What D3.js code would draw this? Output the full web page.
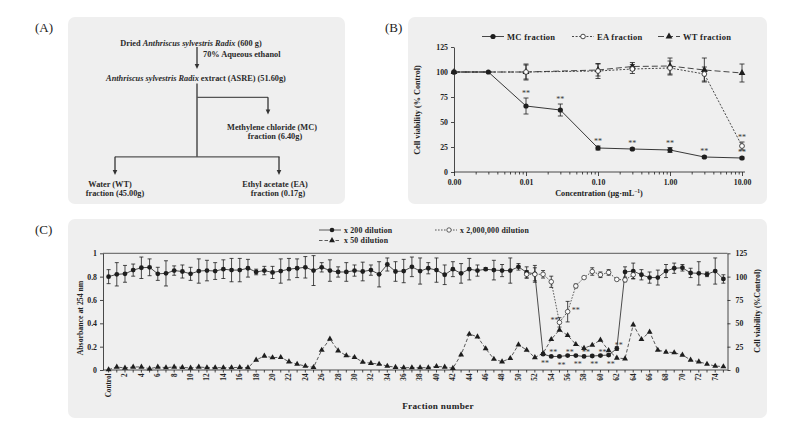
<!DOCTYPE html>
<html><head><meta charset="utf-8">
<script src="https://cdn.jsdelivr.net/npm/d3@7/dist/d3.min.js"></script>
<style>body{margin:0;background:#fff;} svg{display:block;}</style>
</head><body><svg id="c" width="803" height="426"></svg>
<script>
// ---------- Panel B data ----------
const concMC = [0.001, 0.003, 0.01, 0.03, 0.1, 0.3, 1, 3, 10];
const mcMean = [100, 100, 66, 62, 24, 23, 22, 15, 14];
const mcErr  = [0, 0, 8, 6, 2, 1, 2.5, 1, 1];
const mcSig  = [0, 0, 1, 1, 1, 1, 1, 1, 1];
const concEW = [0.001, 0.01, 0.1, 0.3, 1, 3, 10];
const eaMean = [100, 100, 101, 103, 104, 98, 26];
const eaErr  = [0, 8, 7.5, 4.5, 7, 7, 4];
const eaSig  = [0, 0, 0, 0, 0, 0, 1];
const wtMean = [100, 100, 102, 105.5, 106, 102, 99];
const wtErr  = [0, 7, 6, 4, 8, 12, 9];
const xTickValsB = [0.001, 0.01, 0.1, 1, 10];
const xTickLabelsB = ["0.00", "0.01", "0.10", "1.00", "10.00"];
const yTicksB = [0, 25, 50, 75, 100, 125];
const legendB = ["MC fraction", "EA fraction", "WT fraction"];

// ---------- Panel C data ----------
const categoriesC = ["Control"].concat(d3.range(1, 76).map(String));
const x200Mean = [100,102.5,103,107,109.5,110,103,103.5,106.5,105.5,103,106,106.5,106,108,107,107,109,105,106.5,
  104.5,106,108,109,110,106.5,110,106.5,105,105,106.5,105.5,107,102.5,113,105.5,106,110.5,106,109,
  107,102,108,103.5,108,106.5,108,107,106.5,106.5,110.5,104.5,103,17,14.5,14.5,15.5,15.5,14.5,15,
  15.5,16,23,105,106,102,99,99,106,109,109.5,104,103.5,102.5,106,97.5];
const x200Err = [7.5,12.5,9,6.5,11.5,9,7,13.5,5,7,7,13,11,9,10,12.5,12.5,9.5,3,4.5,
  6.5,13,11.5,10,11.5,16,5,11.5,5.5,10,6,10,5.5,13.5,7,10.5,12.5,10.5,14,6,
  13,10.5,8,10.5,11.5,6,1.5,10.5,6.5,13.5,3.5,6,9,1,1,1,1,1,1,1,
  1,1,2,5.5,8.5,5.5,6,8,7,5.5,3.5,5,12.5,2.5,14,4.5];
const x50Abs = [0.003,0.026,0.017,0.026,0.026,0.011,0.026,0.02,0.026,0.023,0.017,0.026,0.02,0.02,0.02,0.02,0.023,0.02,0.086,0.12,
  0.106,0.109,0.071,0.05,0.034,0.023,0.171,0.266,0.165,0.123,0.109,0.068,0.058,0.051,0.034,0.024,0.02,0.02,0.02,0.02,
  0.031,0.026,0.015,0.131,0.308,0.285,0.183,0.094,0.071,0.1,0.217,0.171,0.107,0.143,0.263,0.343,0.297,0.22,0.187,0.214,
  0.257,0.167,0.103,0.097,0.388,0.263,0.326,0.171,0.154,0.149,0.129,0.086,0.071,0.051,0.034,0.029];
const x2mIdx  = [51,52,53,54,55,56,57,58,59,60,61,62,63,64];
const x2mMean = [102.5,102.5,102.5,94.5,51,62.5,90,99,105.5,102,104.5,97,96.5,102];
const x2mErr  = [4,7,4,6,5,11,2,1,4,3,3,1,2,4];
const sigFilledIdx = [53,54,55,56,57,58,59,60,61,62];
const sigFilledPos = ["below","above","below","above","below","above","below","above","below","above"];
const sigOpenIdx = [55,56];
const sigOpenSide = ["left","right"];
const yTicksLeft = [0,0.2,0.4,0.6,0.8,1];
const yTickLabelsLeft = ["0","0.2","0.4","0.6","0.8","1"];
const yTicksRight = [0,25,50,75,100,125];
const legendC = ["x 200 dilution","x 2,000,000 dilution","x 50 dilution"];

// ---------- common ----------
const FONT = '"Liberation Serif","Times New Roman",serif';
const BG = "#efefef";
const INK = "#1e1e1e";
const svg = d3.select("#c");
svg.attr("font-family", FONT);

function styleAxis(g, fs) {
  g.attr("font-family", FONT).attr("font-size", fs).style("color", INK);
  g.selectAll("text").attr("font-weight", "bold").attr("fill", "#222");
  g.selectAll("line,path").attr("stroke-width", 0.8);
}
function errBar(g, x, y1, y2, cap, sw) {
  g.append("line").attr("x1", x).attr("x2", x).attr("y1", y1).attr("y2", y2).attr("stroke", INK).attr("stroke-width", sw || 0.8);
  g.append("line").attr("x1", x - cap).attr("x2", x + cap).attr("y1", y1).attr("y2", y1).attr("stroke", INK).attr("stroke-width", 0.8);
  g.append("line").attr("x1", x - cap).attr("x2", x + cap).attr("y1", y2).attr("y2", y2).attr("stroke", INK).attr("stroke-width", 0.8);
}

// panel backgrounds
svg.append("rect").attr("x", 68).attr("y", 17).attr("width", 277).attr("height", 187).attr("rx", 7).attr("fill", BG);
svg.append("rect").attr("x", 408).attr("y", 17).attr("width", 359).attr("height", 187).attr("rx", 7).attr("fill", BG);
svg.append("rect").attr("x", 68).attr("y", 219).attr("width", 699).attr("height", 199).attr("rx", 7).attr("fill", BG);

[["(A)", 35, 32], ["(B)", 385, 32], ["(C)", 35, 234]].forEach(d => {
  svg.append("text").attr("x", d[1]).attr("y", d[2]).attr("font-size", 13).attr("fill", "#222").text(d[0]);
});

// ---------- Panel A (flow chart) ----------
const A = svg.append("g").attr("font-size", 8.3).attr("font-weight", "bold").attr("fill", "#2a2a2a");
function txt(x, y, parts, anchor) {
  const t = A.append("text").attr("x", x).attr("y", y).attr("text-anchor", anchor || "middle").attr("fill", "#2a2a2a");
  parts.forEach(p => t.append("tspan").attr("font-style", p[1] ? "italic" : null).text(p[0]));
}
function arrowDown(x, y1, y2) {
  A.append("line").attr("x1", x).attr("x2", x).attr("y1", y1).attr("y2", y2 - 4).attr("stroke", "#333").attr("stroke-width", 1.3);
  A.append("path").attr("d", `M${x - 2.3},${y2 - 5} L${x + 2.3},${y2 - 5} L${x},${y2} Z`).attr("fill", "#333");
}
function hline(x1, x2, y) { A.append("line").attr("x1", x1).attr("x2", x2).attr("y1", y).attr("y2", y).attr("stroke", "#555").attr("stroke-width", 1.3); }
txt(191, 45.5, [["Dried "], ["Anthriscus sylvestris Radix", 1], [" (600 g)"]]);
arrowDown(197, 47, 69);
txt(203, 57, [["70% Aqueous ethanol"]], "start");
txt(196, 80.5, [["Anthriscus sylvestris Radix", 1], [" extract (ASRE) (51.60g)"]]);
A.append("line").attr("x1", 197).attr("x2", 197).attr("y1", 83.5).attr("y2", 157).attr("stroke", "#333").attr("stroke-width", 1.3);
hline(197, 268, 97.3);
arrowDown(268, 97.3, 114.5);
txt(272, 129.5, [["Methylene chloride (MC)"]]);
txt(275, 138.8, [["fraction (6.40g)"]]);
hline(115, 279.5, 156.8);
arrowDown(115, 156.8, 175);
arrowDown(279, 156.8, 175);
txt(110, 187, [["Water (WT)"]]);
txt(115, 196, [["fraction (45.00g)"]]);
txt(275, 187, [["Ethyl acetate (EA)"]]);
txt(278, 196, [["fraction (0.17g)"]]);

// ---------- Panel B ----------
const B = svg.append("g");
const xB = d3.scaleLog().domain([0.001, 10]).range([454, 742]);
const yB = d3.scaleLinear().domain([0, 125]).range([172, 47]);

const minorB = [];
[0.001, 0.01, 0.1, 1].forEach(dec => { for (let k = 2; k <= 9; k++) minorB.push(dec * k); });
const gxm = B.append("g").attr("transform", "translate(0,172)")
  .call(d3.axisBottom(xB).tickValues(minorB).tickSize(2.5).tickFormat(""));
gxm.select(".domain").remove();
styleAxis(gxm, 7.5);
const gx = B.append("g").attr("transform", "translate(0,172)")
  .call(d3.axisBottom(xB).tickValues(xTickValsB).tickSize(4).tickSizeOuter(0).tickPadding(3)
    .tickFormat((d, i) => xTickLabelsB[i]));
gx.select(".domain").attr("d", "M454,0H745");
styleAxis(gx, 7.8);
const gy = B.append("g").attr("transform", "translate(454,0)")
  .call(d3.axisLeft(yB).tickValues(yTicksB).tickSize(3).tickSizeOuter(0).tickPadding(3));
styleAxis(gy, 7.8);

B.append("text").attr("transform", "translate(420,110) rotate(-90)").attr("text-anchor", "middle")
  .attr("font-size", 8.2).attr("font-weight", "bold").attr("fill", "#222").text("Cell viability (% Control)");
const xt = B.append("text").attr("x", 599).attr("y", 196).attr("text-anchor", "middle")
  .attr("font-size", 8.2).attr("font-weight", "bold").attr("fill", "#222");
xt.append("tspan").text("Concentration (\u03bcg\u00b7mL");
xt.append("tspan").attr("dy", -3).attr("font-size", 5.5).text("\u22121");
xt.append("tspan").attr("dy", 3).text(")");

const lineB = d3.line().x(d => xB(d[0])).y(d => yB(d[1]));
const wtPts = concEW.map((c, i) => [c, wtMean[i]]);
const eaPts = concEW.map((c, i) => [c, eaMean[i]]);
const mcPts = concMC.map((c, i) => [c, mcMean[i]]);
concEW.forEach((c, i) => { if (wtErr[i]) errBar(B, xB(c), yB(wtMean[i] + wtErr[i]), yB(wtMean[i] - wtErr[i]), 2.5); });
concEW.forEach((c, i) => { if (eaErr[i]) errBar(B, xB(c), yB(eaMean[i] + eaErr[i]), yB(eaMean[i] - eaErr[i]), 2.5); });
concMC.forEach((c, i) => { if (mcErr[i]) errBar(B, xB(c), yB(mcMean[i] + mcErr[i]), yB(mcMean[i] - mcErr[i]), 2.5); });
B.append("path").attr("d", lineB(wtPts)).attr("fill", "none").attr("stroke", "#333").attr("stroke-width", 0.9).attr("stroke-dasharray", "6,3");
B.append("path").attr("d", lineB(eaPts)).attr("fill", "none").attr("stroke", "#333").attr("stroke-width", 0.9).attr("stroke-dasharray", "2,1.6");
B.append("path").attr("d", lineB(mcPts)).attr("fill", "none").attr("stroke", "#222").attr("stroke-width", 0.9);
const triB = d3.symbol().type(d3.symbolTriangle).size(20);
wtPts.forEach(p => B.append("path").attr("d", triB()).attr("transform", `translate(${xB(p[0])},${yB(p[1])})`).attr("fill", INK));
eaPts.forEach(p => B.append("circle").attr("cx", xB(p[0])).attr("cy", yB(p[1])).attr("r", 2.4).attr("fill", "#fff").attr("stroke", INK).attr("stroke-width", 0.8));
mcPts.forEach(p => B.append("circle").attr("cx", xB(p[0])).attr("cy", yB(p[1])).attr("r", 2.6).attr("fill", INK));
concMC.forEach((c, i) => { if (mcSig[i]) B.append("text").attr("x", xB(c)).attr("y", yB(mcMean[i] + mcErr[i]) - 2).attr("text-anchor", "middle").attr("font-size", 8).attr("fill", "#333").text("**"); });
concEW.forEach((c, i) => { if (eaSig[i]) B.append("text").attr("x", xB(c)).attr("y", yB(eaMean[i] + eaErr[i]) - 2).attr("text-anchor", "middle").attr("font-size", 8).attr("fill", "#333").text("**"); });
const LB = B.append("g").attr("font-size", 8.5).attr("font-weight", "bold").attr("fill", "#222");
const legBx = [482, 572, 658];
const legBdash = [null, "2,1.6", "6,3"];
legendB.forEach((name, i) => {
  const x0 = legBx[i], y0 = 36.5;
  LB.append("line").attr("x1", x0).attr("x2", x0 + 22).attr("y1", y0).attr("y2", y0).attr("stroke", "#333").attr("stroke-width", 0.9).attr("stroke-dasharray", legBdash[i]);
  if (i === 0) LB.append("circle").attr("cx", x0 + 11).attr("cy", y0).attr("r", 2.6).attr("fill", INK);
  if (i === 1) LB.append("circle").attr("cx", x0 + 11).attr("cy", y0).attr("r", 2.3).attr("fill", "#fff").attr("stroke", INK).attr("stroke-width", 0.8);
  if (i === 2) LB.append("path").attr("d", triB()).attr("transform", `translate(${x0 + 11},${y0})`).attr("fill", INK);
  LB.append("text").attr("x", x0 + 25).attr("y", y0 + 3).attr("letter-spacing", 0.3).attr("fill", "#222").text(name);
});

// ---------- Panel C ----------
const C = svg.append("g");
const xC = d3.scaleBand().domain(d3.range(categoriesC.length)).range([104.5, 727.5]);
const cx = i => xC(i) + xC.bandwidth() / 2;
const yL = d3.scaleLinear().domain([0, 1]).range([370, 253.3]);
const yR = d3.scaleLinear().domain([0, 125]).range([370, 253.3]);

C.append("line").attr("x1", 103).attr("x2", 727.5).attr("y1", 253.3).attr("y2", 253.3).attr("stroke", "#333").attr("stroke-width", 0.8);
const gyl = C.append("g").attr("transform", "translate(103,0)")
  .call(d3.axisLeft(yL).tickValues(yTicksLeft).tickSize(3).tickSizeOuter(0).tickPadding(3).tickFormat((d, i) => yTickLabelsLeft[i]));
styleAxis(gyl, 7.8);
const gyr = C.append("g").attr("transform", "translate(727.5,0)")
  .call(d3.axisRight(yR).tickValues(yTicksRight).tickSize(3).tickSizeOuter(0).tickPadding(5));
styleAxis(gyr, 7.8);
const gxc = C.append("g").attr("transform", "translate(0,370)")
  .call(d3.axisBottom(xC).tickSize(2.5).tickSizeOuter(0).tickFormat(""));
gxc.select(".domain").attr("d", "M103,0H727.5");
styleAxis(gxc, 7);
categoriesC.forEach((lab, i) => {
  if (i % 2 === 0) C.append("text").attr("transform", `translate(${cx(i) + 2.4},373.5) rotate(-90)`).attr("text-anchor", "end")
    .attr("font-size", 7.2).attr("font-weight", "bold").attr("fill", "#222").text(lab);
});
C.append("text").attr("transform", "translate(83,318) rotate(-90)").attr("text-anchor", "middle")
  .attr("font-size", 7.8).attr("font-weight", "bold").attr("fill", "#222").text("Absorbance at 254 nm");
C.append("text").attr("transform", "translate(760,311) rotate(-90)").attr("text-anchor", "middle")
  .attr("font-size", 7.8).attr("font-weight", "bold").attr("fill", "#222").text("Cell viability (%Control)");
C.append("text").attr("x", 438).attr("y", 409).attr("text-anchor", "middle")
  .attr("font-size", 9.2).attr("font-weight", "bold").attr("letter-spacing", 0.3).attr("fill", "#222").text("Fraction number");

const lineL = d3.line().x((d, i) => cx(i)).y(d => yL(d));
C.append("path").attr("d", lineL(x50Abs)).attr("fill", "none").attr("stroke", "#333").attr("stroke-width", 0.8).attr("stroke-dasharray", "3.5,2");
const triC = d3.symbol().type(d3.symbolTriangle).size(15);
x50Abs.forEach((v, i) => C.append("path").attr("d", triC()).attr("transform", `translate(${cx(i)},${yL(v)})`).attr("fill", INK));

x200Mean.forEach((v, i) => errBar(C, cx(i), yR(v + x200Err[i]), yR(v - x200Err[i]), 2));
const lineR = d3.line().x(d => cx(d[0])).y(d => yR(d[1]));
C.append("path").attr("d", lineR(x200Mean.map((v, i) => [i, v]))).attr("fill", "none").attr("stroke", "#222").attr("stroke-width", 0.8);
x200Mean.forEach((v, i) => C.append("circle").attr("cx", cx(i)).attr("cy", yR(v)).attr("r", 2.4).attr("fill", INK));

x2mIdx.forEach((idx, k) => errBar(C, cx(idx), yR(x2mMean[k] + x2mErr[k]), yR(x2mMean[k] - x2mErr[k]), 2));
C.append("path").attr("d", lineR(x2mIdx.map((idx, k) => [idx, x2mMean[k]]))).attr("fill", "none").attr("stroke", "#333").attr("stroke-width", 0.8).attr("stroke-dasharray", "1.6,1.4");
x2mIdx.forEach((idx, k) => C.append("circle").attr("cx", cx(idx)).attr("cy", yR(x2mMean[k])).attr("r", 2.3).attr("fill", "#fafafa").attr("stroke", INK).attr("stroke-width", 0.7));

sigFilledIdx.forEach((idx, k) => {
  const py = yR(x200Mean[idx]);
  C.append("text").attr("x", cx(idx) + 2).attr("y", sigFilledPos[k] === "below" ? py + 11.5 : py - 1)
    .attr("text-anchor", "middle").attr("font-size", 8).attr("fill", "#333").text("**");
});
sigOpenIdx.forEach((idx, k) => {
  const kk = x2mIdx.indexOf(idx);
  const py = yR(x2mMean[kk]);
  const left = sigOpenSide[k] === "left";
  C.append("text").attr("x", left ? cx(idx) - 5 : cx(idx) + 8).attr("y", left ? py + 0.5 : py + 1.5)
    .attr("text-anchor", "middle").attr("font-size", 8).attr("fill", "#333").text("**");
});

const LC = C.append("g").attr("font-size", 7.8).attr("font-weight", "bold");
function legC(x0, y0, kind, label) {
  LC.append("line").attr("x1", x0).attr("x2", x0 + 22).attr("y1", y0).attr("y2", y0).attr("stroke", "#333").attr("stroke-width", 0.8)
    .attr("stroke-dasharray", kind === "filled" ? null : (kind === "open" ? "1.6,1.4" : "3.5,2"));
  if (kind === "filled") LC.append("circle").attr("cx", x0 + 13).attr("cy", y0).attr("r", 2.3).attr("fill", INK);
  if (kind === "open") LC.append("circle").attr("cx", x0 + 14).attr("cy", y0).attr("r", 2.2).attr("fill", "#fafafa").attr("stroke", INK).attr("stroke-width", 0.7);
  if (kind === "tri") LC.append("path").attr("d", triC()).attr("transform", `translate(${x0 + 13},${y0})`).attr("fill", INK);
  LC.append("text").attr("x", x0 + 25).attr("y", y0 + 2.7).attr("fill", "#222").attr("letter-spacing", 0.2).text(label);
}
legC(319, 230, "filled", legendC[0]);
legC(435, 230, "open", legendC[1]);
legC(319, 240.5, "tri", legendC[2]);
</script>
</body></html>
